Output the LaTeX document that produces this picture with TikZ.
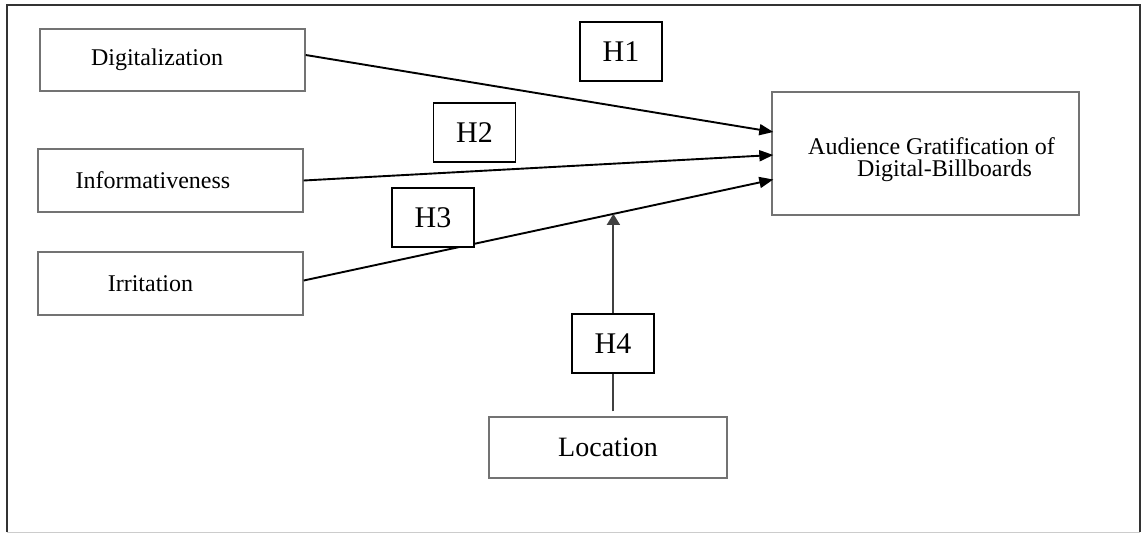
\documentclass[tikz,border=0pt]{standalone}
\usepackage{fontspec}
\setmainfont{Liberation Serif}
\usetikzlibrary{arrows.meta,calc}
\begin{document}
\begin{tikzpicture}[x=1pt,y=-1pt,
  inbox/.style={draw=black!55,line width=1.4pt,minimum width=265pt,minimum height=62pt,inner sep=0pt},
  hbox/.style={draw=black,line width=1.9pt,fill=white,minimum width=82pt,minimum height=59pt,inner sep=0pt,font=\fontsize{30}{31}\selectfont},
  lbl/.style={font=\fontsize{24}{26}\selectfont},
  conn/.style={line width=1.9pt,-{Triangle[length=14pt,width=11pt]}}
]
\useasboundingbox (0,0) rectangle (1143,533);
% frame
\draw[line width=1.5pt,black!80] (7,532) -- (7,5) -- (1140,5) -- (1140,532);
\draw[line width=1pt,black!20] (7,532) -- (1140,532);

% input boxes
\node[inbox,label={[lbl,xshift=-15.5pt]center:Digitalization}] (dig) at (172.5,60) {};
\node[inbox,minimum height=63pt,label={[lbl,xshift=-17.5pt]center:Informativeness}] (inf) at (170.5,180.5) {};
\node[inbox,minimum height=63pt,label={[lbl,xshift=-20pt]center:Irritation}] (irr) at (170.5,283.5) {};

% outcome box
\node[draw=black!55,line width=1.4pt,minimum width=307pt,minimum height=123pt,inner sep=0pt,
  label={[align=left,font=\fontsize{24}{22}\selectfont,xshift=6pt,yshift=-6.5pt]center:Audience Gratification of\\\hspace*{49pt}Digital-Billboards}] (out) at (925.5,153.5) {};

% location box
\node[draw=black!55,line width=1.4pt,minimum width=238pt,minimum height=61pt,inner sep=0pt,font=\fontsize{28}{30}\selectfont] (loc) at (608,447.5) {Location};

% connectors
\draw[conn] ([yshift=5pt]dig.east) -- ([yshift=21.5pt,xshift=2pt]out.west);
\draw[conn] (inf.east) -- ([yshift=-1.5pt,xshift=2pt]out.west);
\draw[conn] ([yshift=3pt]irr.east) -- ([yshift=-26pt,xshift=2pt]out.west) coordinate[pos=0.6595] (p);
\draw[line width=1.9pt,black!75,-{Triangle[length=11pt,width=13pt]},shorten <=5pt] (p |- loc.north) -- (p);

% hypothesis labels
\node[hbox] (h1) at (621,51.5) {H1};
\node[hbox] (h2) at (474.5,132.5) {H2};
\node[hbox] (h3) at (433,217.5) {H3};
\node[hbox] (h4) at (613,343.5) {H4};
\end{tikzpicture}
\end{document}
